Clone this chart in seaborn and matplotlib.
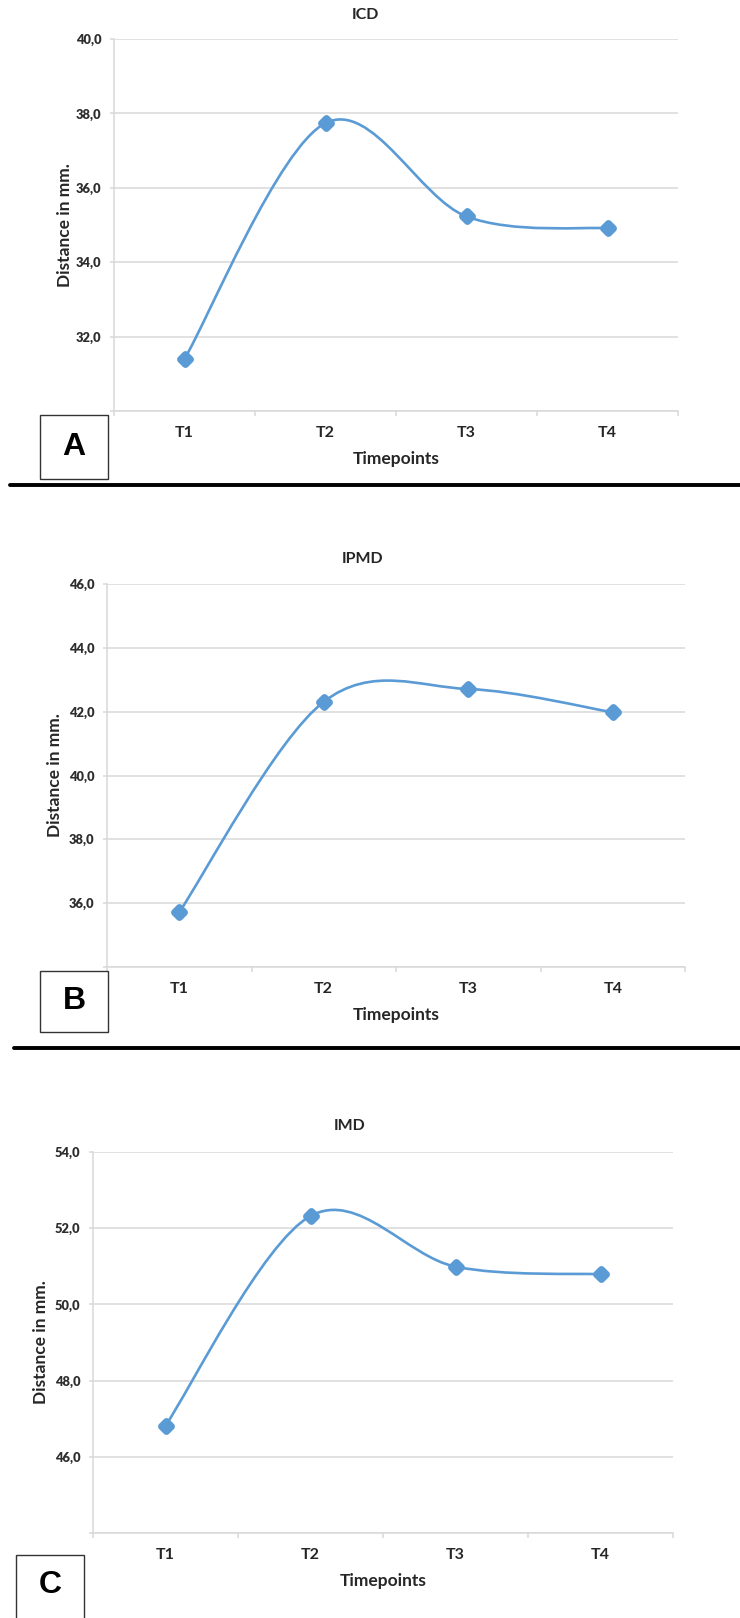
import numpy as np
import pandas as pd
import matplotlib
matplotlib.use("Agg")
import matplotlib.pyplot as plt
import seaborn as sns
from matplotlib.path import Path
from matplotlib.patches import PathPatch, Rectangle
from matplotlib.lines import Line2D

sns.set_theme(style="white")
plt.rcParams['font.family'] = ['Lato', 'DejaVu Sans']

# data
timepoints = ["T1", "T2", "T3", "T4"]
icd = [31.40, 37.74, 35.23, 34.91]
ipmd = [35.72, 42.31, 42.71, 41.98]
imd = [46.82, 52.32, 50.99, 50.79]

titles = ["ICD", "IPMD", "IMD"]
letters = ["A", "B", "C"]
y_ranges = [(30, 40), (34, 46), (44, 54)]
y_ticks = [[32, 34, 36, 38, 40], [36, 38, 40, 42, 44, 46], [46, 48, 50, 52, 54]]

# layout in pixels (figure is 740 x 1618)
W, H = 740, 1618
ax_px = [(114, 39, 678, 411), (107, 584, 685, 967), (93, 1152, 673, 1533)]
title_px = [(365, 15), (363, 559), (350, 1126)]
ylabel_x = [65, 55, 41.5]
box_px = [(40, 415, 108, 479), (40, 971, 108, 1032), (16, 1555, 84, 1640)]
letter_y = [447, 1001, 1585]
rule_px = [(10, 485), (14, 1048)]

BLUE = "#5B9BD5"
GRID = "#D9D9D9"
TEXT = "#262626"


def fx(x):
    return x / W


def fy(y):
    return 1 - y / H


def smooth_path(xs, ys):
    # bezier smoothing like the excel "smoothed line"
    pts = np.column_stack([xs, ys]).astype(float)
    n = len(pts)
    verts, codes = [pts[0]], [Path.MOVETO]
    for i in range(n - 1):
        p0 = pts[i - 1] if i > 0 else pts[i]
        p1, p2 = pts[i], pts[i + 1]
        p3 = pts[i + 2] if i + 2 < n else pts[i + 1]
        verts += [p1 + (p2 - p0) / 6, p2 - (p3 - p1) / 6, p2]
        codes += [Path.CURVE4] * 3
    return Path(verts, codes)


fig = plt.figure(figsize=(W / 100, H / 100), dpi=100)

for i, values in enumerate([icd, ipmd, imd]):
    l, t, r, b = ax_px[i]
    ax = fig.add_axes([fx(l), fy(b), (r - l) / W, (b - t) / H])
    df = pd.DataFrame({"Timepoints": timepoints, "value": values})

    patch = PathPatch(smooth_path(np.arange(len(values)), values), facecolor="none",
                      edgecolor=BLUE, lw=1.9, capstyle="round", zorder=3)
    ax.add_patch(patch)
    # rounded diamonds, like the excel markers
    sns.scatterplot(data=df, x="Timepoints", y="value", ax=ax, marker="D", s=26,
                    color=BLUE, edgecolor=BLUE, linewidth=5.0, joinstyle="round", zorder=4)

    lo, hi = y_ranges[i]
    ax.set_xlim(-0.5, len(timepoints) - 0.5)
    ax.set_ylim(lo, hi)
    ax.set_yticks([lo] + y_ticks[i])
    ax.set_yticklabels([""] + [f"{v:.1f}".replace(".", ",") for v in y_ticks[i]],
                       fontweight="heavy", fontsize=9.3, color="#2e2e2e")
    ax.set_xticks(range(len(timepoints)))
    ax.set_xticklabels(timepoints, fontweight="bold", fontsize=11.5, color=TEXT)
    ax.set_xticks(np.arange(-0.5, len(timepoints)), minor=True)

    ax.grid(axis="y", color=GRID, lw=1.1)
    ax.grid(axis="x", visible=False)
    for s in ["top", "right"]:
        ax.spines[s].set_visible(False)
    for s in ["left", "bottom"]:
        ax.spines[s].set_color(GRID)
        ax.spines[s].set_linewidth(1.1)

    ax.tick_params(axis="y", which="major", length=3, width=1.1, color=GRID, pad=6, left=True)
    ax.tick_params(axis="x", which="major", length=0, pad=11)
    ax.tick_params(axis="x", which="minor", length=3.5, width=1.1, color=GRID, bottom=True)

    ax.set_xlabel("Timepoints", fontsize=12.5, fontweight="bold", color=TEXT)
    ax.xaxis.set_label_coords(0.5, -48 / (b - t))
    ax.xaxis.label.set_va("center")
    ax.set_ylabel("Distance in mm.", fontsize=12.5, fontweight="bold", color=TEXT)
    ax.yaxis.set_label_coords((ylabel_x[i] - l) / (r - l), 0.5)
    ax.yaxis.label.set_va("center")

    tx, ty = title_px[i]
    fig.text(fx(tx), fy(ty), titles[i], ha="center", va="center", fontsize=11.5,
             fontweight="bold", color=TEXT)

    bl, bt, br, bb = box_px[i]
    fig.patches.append(Rectangle((fx(bl), fy(bb)), (br - bl) / W, (bb - bt) / H,
                                 transform=fig.transFigure, facecolor="white",
                                 edgecolor="#333333", lw=1.0, figure=fig))
    fig.text(fx((bl + br) / 2), fy(letter_y[i]), letters[i],
             ha="center", va="center", fontsize=23, fontweight="bold",
             family="Liberation Sans", color="black")

for x0, y0 in rule_px:
    fig.lines.append(Line2D([fx(x0), 1], [fy(y0), fy(y0)], transform=fig.transFigure,
                            color="black", lw=2.8, figure=fig))

fig.savefig("out.png", dpi=100, facecolor="white")
